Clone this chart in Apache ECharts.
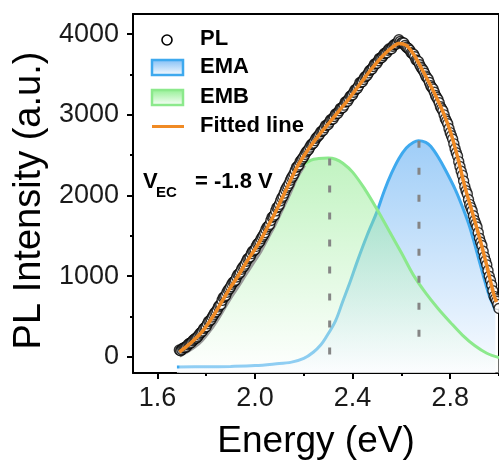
<!DOCTYPE html>
<html>
<head>
<meta charset="utf-8">
<script src="https://cdn.jsdelivr.net/npm/echarts@6/dist/echarts.min.js"></script>
<style>
  html, body { margin: 0; padding: 0; background: #fff; }
  #chart { width: 499px; height: 465px; }
</style>
</head>
<body>
<div id="chart"></div>
<script>
// PL spectrum at V_EC = -1.8 V with its two-band decomposition.

// Measured PL points (energy in eV, intensity in a.u.)
const plEnergy = [
  1.69, 1.70, 1.71, 1.72, 1.73, 1.74, 1.75, 1.76, 1.77, 1.78, 1.79, 1.80, 1.81, 1.82, 1.83, 1.84, 1.85, 1.86, 1.87, 1.88,
  1.89, 1.90, 1.91, 1.92, 1.93, 1.94, 1.95, 1.96, 1.97, 1.98, 1.99, 2.00, 2.01, 2.02, 2.03, 2.04, 2.05, 2.06, 2.07, 2.08,
  2.09, 2.10, 2.11, 2.12, 2.13, 2.14, 2.15, 2.16, 2.17, 2.18, 2.19, 2.20, 2.21, 2.22, 2.23, 2.24, 2.25, 2.26, 2.27, 2.28,
  2.29, 2.30, 2.31, 2.32, 2.33, 2.34, 2.35, 2.36, 2.37, 2.38, 2.39, 2.40, 2.41, 2.42, 2.43, 2.44, 2.45, 2.46, 2.47, 2.48,
  2.49, 2.50, 2.51, 2.52, 2.53, 2.54, 2.55, 2.56, 2.57, 2.58, 2.59, 2.60, 2.61, 2.62, 2.63, 2.64, 2.65, 2.66, 2.67, 2.68,
  2.69, 2.70, 2.71, 2.72, 2.73, 2.74, 2.75, 2.76, 2.77, 2.78, 2.79, 2.80, 2.81, 2.82, 2.83, 2.84, 2.85, 2.86, 2.87, 2.88,
  2.89, 2.90, 2.91, 2.92, 2.93, 2.94, 2.95, 2.96, 2.97, 2.98, 2.99, 3.00
];
const plIntensity = [
  85, 90, 115, 130, 165, 180, 215, 235, 270, 305, 350, 375, 440, 465, 520, 560, 620, 650, 735, 760,
  830, 870, 925, 950, 1020, 1050, 1110, 1150, 1215, 1240, 1310, 1330, 1400, 1430, 1490, 1540, 1610, 1640, 1730, 1760,
  1850, 1890, 1970, 2030, 2100, 2150, 2220, 2270, 2350, 2380, 2440, 2480, 2540, 2570, 2630, 2650, 2710, 2740, 2790, 2810,
  2870, 2880, 2940, 2950, 3010, 3020, 3080, 3090, 3160, 3170, 3230, 3250, 3310, 3330, 3400, 3410, 3470, 3490, 3550, 3570,
  3630, 3640, 3700, 3710, 3760, 3770, 3820, 3820, 3870, 3880, 3930, 3890, 3890, 3840, 3820, 3770, 3750, 3680, 3660, 3590,
  3550, 3480, 3440, 3360, 3320, 3240, 3190, 3100, 3050, 2950, 2890, 2780, 2700, 2580, 2490, 2360, 2250, 2110, 2020, 1890,
  1810, 1690, 1610, 1470, 1380, 1240, 1140, 1000, 890, 750, 690, 600
];
// Readings taken between the points above
const plEnergyMid = [
  1.695, 1.705, 1.715, 1.725, 1.735, 1.745, 1.755, 1.765, 1.775, 1.785, 1.795, 1.805, 1.815, 1.825, 1.835, 1.845, 1.855, 1.865, 1.875, 1.885,
  1.895, 1.905, 1.915, 1.925, 1.935, 1.945, 1.955, 1.965, 1.975, 1.985, 1.995, 2.005, 2.015, 2.025, 2.035, 2.045, 2.055, 2.065, 2.075, 2.085,
  2.095, 2.105, 2.115, 2.125, 2.135, 2.145, 2.155, 2.165, 2.175, 2.185, 2.195, 2.205, 2.215, 2.225, 2.235, 2.245, 2.255, 2.265, 2.275, 2.285,
  2.295, 2.305, 2.315, 2.325, 2.335, 2.345, 2.355, 2.365, 2.375, 2.385, 2.395, 2.405, 2.415, 2.425, 2.435, 2.445, 2.455, 2.465, 2.475, 2.485,
  2.495, 2.505, 2.515, 2.525, 2.535, 2.545, 2.555, 2.565, 2.575, 2.585, 2.595, 2.605, 2.615, 2.625, 2.635, 2.645, 2.655, 2.665, 2.675, 2.685,
  2.695, 2.705, 2.715, 2.725, 2.735, 2.745, 2.755, 2.765, 2.775, 2.785, 2.795, 2.805, 2.815, 2.825, 2.835, 2.845, 2.855, 2.865, 2.875, 2.885,
  2.895, 2.905, 2.915, 2.925, 2.935, 2.945, 2.955, 2.965, 2.975, 2.985, 2.995
];
const plIntensityMid = [
  75, 108, 118, 150, 168, 200, 228, 250, 292, 320, 365, 410, 448, 495, 545, 585, 640, 700, 745, 800,
  845, 900, 935, 990, 1030, 1085, 1125, 1185, 1225, 1280, 1315, 1370, 1410, 1465, 1510, 1580, 1620, 1690, 1740, 1810,
  1860, 1935, 1990, 2070, 2120, 2190, 2240, 2310, 2360, 2420, 2460, 2510, 2555, 2600, 2640, 2680, 2725, 2760, 2800, 2840,
  2875, 2910, 2945, 2980, 3015, 3050, 3085, 3120, 3165, 3200, 3240, 3280, 3320, 3360, 3405, 3440, 3480, 3520, 3560, 3600,
  3635, 3670, 3705, 3735, 3765, 3800, 3815, 3850, 3875, 3900, 3910, 3895, 3860, 3830, 3800, 3760, 3720, 3670, 3620, 3570,
  3515, 3460, 3400, 3340, 3280, 3215, 3150, 3075, 3000, 2920, 2830, 2740, 2640, 2530, 2420, 2300, 2180, 2060, 1950, 1850,
  1750, 1650, 1540, 1420, 1310, 1190, 1070, 950, 820, 720, 650
];

// Fitted envelope
const fitEnergy = [
  1.69, 1.72, 1.75, 1.78, 1.81, 1.84, 1.87, 1.90, 1.93, 1.96, 1.99, 2.02, 2.05, 2.08, 2.11, 2.14, 2.17, 2.20, 2.23, 2.26,
  2.29, 2.32, 2.35, 2.38, 2.41, 2.44, 2.47, 2.50, 2.53, 2.56, 2.59, 2.62, 2.65, 2.68, 2.71, 2.74, 2.77, 2.80, 2.83, 2.86,
  2.89, 2.92, 2.95, 2.98, 2.99
];
const fitIntensity = [
  60, 130, 210, 300, 420, 560, 715, 865, 1000, 1150, 1290, 1430, 1600, 1770, 1960, 2150, 2340, 2490, 2620, 2740,
  2850, 2960, 3070, 3180, 3300, 3420, 3540, 3650, 3750, 3830, 3885, 3860, 3750, 3590, 3420, 3240, 3040, 2800, 2480, 2110,
  1800, 1480, 1130, 760, 680
];

// High-energy band (EMA)
const emaEnergy = [
  1.68, 1.80, 1.90, 2.00, 2.08, 2.15, 2.20, 2.24, 2.27, 2.29, 2.33, 2.36, 2.39, 2.42, 2.46, 2.50, 2.53, 2.56, 2.59, 2.62,
  2.65, 2.67, 2.70, 2.72, 2.75, 2.78, 2.82, 2.85, 2.88, 2.91, 2.94, 2.96, 2.985
];
const emaIntensity = [
  -125, -123, -118, -108, -88, -65, -20, 60, 150, 237, 447, 690, 930, 1190, 1510, 1800, 2060, 2280, 2460, 2590,
  2660, 2680, 2660, 2610, 2480, 2320, 2080, 1860, 1610, 1290, 960, 760, 580
];

// Low-energy band (EMB)
const embEnergy = [
  1.69, 1.72, 1.75, 1.78, 1.81, 1.84, 1.87, 1.90, 1.93, 1.96, 1.99, 2.02, 2.05, 2.08, 2.11, 2.14, 2.17, 2.20, 2.23, 2.26,
  2.30, 2.33, 2.36, 2.40, 2.45, 2.50, 2.55, 2.60, 2.65, 2.70, 2.75, 2.80, 2.85, 2.90, 2.95, 3.00
];
const embIntensity = [
  20, 70, 130, 210, 320, 450, 600, 750, 885, 1030, 1170, 1310, 1480, 1650, 1840, 2030, 2230, 2380, 2440, 2458,
  2465, 2450, 2400, 2290, 2080, 1830, 1560, 1290, 1010, 790, 600, 430, 270, 140, 45, -10
];
const embEdgeLimit = 2.20;   // where the EMB flank runs under the PL data

// Band centres and heights
const peakCentres = [2.306, 2.672];
const peakHeights = [2460, 2680];

// Axis ticks
const xMajorTicks = [1.6, 2.0, 2.4, 2.8];
const xMinorTicks = [1.8, 2.2, 2.6, 3.0];
const yMajorTicks = [0, 1000, 2000, 3000, 4000];
const yMinorTicks = [500, 1500, 2500, 3500];

const FONT = '"Liberation Sans", Arial, Helvetica, sans-serif';
const pairs = (xs, ys) => xs.map((x, i) => [x, ys[i]]);
const vGrad = (top, bottom) => new echarts.graphic.LinearGradient(0, 0, 0, 1, [
  { offset: 0, color: top }, { offset: 1, color: bottom }
]);

const chart = echarts.init(document.getElementById('chart'), null, { renderer: 'canvas' });

const baseX = { type: 'value', min: 1.5, max: 3.0, splitLine: { show: false } };
const baseY = { type: 'value', min: -200, max: 4250, splitLine: { show: false } };
const axisLine = { show: true, onZero: false, lineStyle: { color: '#000', width: 2 } };
const hiddenLine = { show: false, onZero: false };
const tickStyle = { color: '#000', width: 2 };

const embPairs = pairs(embEnergy, embIntensity);
const plPoints = pairs(plEnergy, plIntensity)
  .concat(pairs(plEnergyMid, plIntensityMid))
  .sort((a, b) => a[0] - b[0]);

const legendFont = 'bold 22px ' + FONT;

chart.setOption({
  animation: false,
  backgroundColor: '#fff',
  grid: { left: 133, top: 14, width: 369, height: 361, containLabel: false },
  xAxis: [
    Object.assign({}, baseX, {
      position: 'bottom',
      axisLine,
      axisTick: { show: true, inside: false, length: 6, lineStyle: tickStyle, customValues: xMajorTicks },
      axisLabel: { show: true, margin: 12, fontSize: 27, fontFamily: FONT, color: '#1a1a1a',
        customValues: xMajorTicks, formatter: v => Number(v).toFixed(1) },
      name: 'Energy (eV)', nameLocation: 'middle', nameGap: 50,
      nameTextStyle: { fontSize: 37, fontFamily: FONT, color: '#000' }
    }),
    Object.assign({}, baseX, {
      position: 'bottom',
      axisLine: hiddenLine,
      axisTick: { show: true, inside: false, length: 3, lineStyle: tickStyle, customValues: xMinorTicks },
      axisLabel: { show: false }
    }),
    Object.assign({}, baseX, {
      position: 'top', axisLine, axisTick: { show: false }, axisLabel: { show: false }
    })
  ],
  yAxis: [
    Object.assign({}, baseY, {
      position: 'left',
      axisLine,
      axisTick: { show: true, inside: false, length: 6, lineStyle: tickStyle, customValues: yMajorTicks },
      axisLabel: { show: true, margin: 14, fontSize: 27, fontFamily: FONT, color: '#1a1a1a',
        customValues: yMajorTicks, formatter: v => String(v) },
      name: 'PL Intensity (a.u.)', nameLocation: 'middle', nameGap: 71, nameRotate: 90,
      nameTextStyle: { fontSize: 38, fontFamily: FONT, color: '#000', padding: [0, 14, 0, 0] }
    }),
    Object.assign({}, baseY, {
      position: 'left',
      axisLine: hiddenLine,
      axisTick: { show: true, inside: false, length: 3, lineStyle: tickStyle, customValues: yMinorTicks },
      axisLabel: { show: false }
    }),
    Object.assign({}, baseY, {
      position: 'right', axisLine, axisTick: { show: false }, axisLabel: { show: false }
    })
  ],
  series: [
    {
      name: 'EMA', type: 'line', smooth: 0.35, showSymbol: false, z: 2,
      data: pairs(emaEnergy, emaIntensity),
      lineStyle: { color: '#3ea9ee', width: 3 },
      itemStyle: { color: '#3ea9ee' },
      areaStyle: { origin: 'start', color: vGrad('#76b8f4', '#f7faff') }
    },
    {
      name: 'EMB', type: 'line', smooth: 0.35, showSymbol: false, z: 3,
      data: embPairs,
      lineStyle: { color: '#8ce98c', width: 3 },
      itemStyle: { color: '#8ce98c' },
      areaStyle: { origin: 'start', color: vGrad('rgba(112,228,112,0.62)', 'rgba(255,255,255,0.62)') }
    },
    {
      name: 'EMB flank', type: 'line', smooth: 0.35, showSymbol: false, z: 4,
      data: embPairs.filter(p => p[0] <= embEdgeLimit),
      lineStyle: { color: '#9a9a9a', width: 5 }
    },
    {
      name: 'EMB centre', type: 'line', showSymbol: false, z: 5,
      data: [[peakCentres[0], peakHeights[0]], [peakCentres[0], 0]],
      lineStyle: { color: '#858585', width: 3, type: [7, 20] }
    },
    {
      name: 'EMA centre', type: 'line', showSymbol: false, z: 5,
      data: [[peakCentres[1], peakHeights[1]], [peakCentres[1], 0]],
      lineStyle: { color: '#858585', width: 3, type: [7, 20] }
    },
    {
      name: 'PL', type: 'scatter', z: 6, symbol: 'circle', symbolSize: 10,
      data: plPoints,
      itemStyle: { color: '#fff', borderColor: '#000', borderWidth: 1.4 }
    },
    {
      name: 'Fitted line', type: 'line', smooth: 0.35, showSymbol: false, z: 7,
      data: pairs(fitEnergy, fitIntensity),
      lineStyle: { color: '#f08a24', width: 3.5 }
    }
  ],
  graphic: [
    // legend
    { type: 'circle', shape: { cx: 167, cy: 40, r: 5 }, style: { fill: '#fff', stroke: '#000', lineWidth: 1.6 }, z: 100 },
    { type: 'text', left: 200, top: 28, style: { text: 'PL', font: legendFont, fill: '#000' }, z: 100 },
    { type: 'rect', shape: { x: 152, y: 60, width: 31, height: 15 },
      style: { fill: vGrad('#7dbcf5', '#ffffff'), stroke: '#3ea9ee', lineWidth: 2.5 }, z: 100 },
    { type: 'text', left: 200, top: 56, style: { text: 'EMA', font: legendFont, fill: '#000' }, z: 100 },
    { type: 'rect', shape: { x: 152, y: 90, width: 31, height: 15 },
      style: { fill: vGrad('#8fef8f', '#ffffff'), stroke: '#8ce98c', lineWidth: 2.5 }, z: 100 },
    { type: 'text', left: 200, top: 86, style: { text: 'EMB', font: legendFont, fill: '#000' }, z: 100 },
    { type: 'line', shape: { x1: 152, y1: 126.5, x2: 184, y2: 126.5 }, style: { stroke: '#f08a24', lineWidth: 3 }, z: 100 },
    { type: 'text', left: 200, top: 115, style: { text: 'Fitted line', font: legendFont, fill: '#000' }, z: 100 },
    // bias annotation
    { type: 'text', left: 143, top: 171, style: { text: 'V', font: 'bold 22px ' + FONT, fill: '#000' }, z: 100 },
    { type: 'text', left: 156, top: 185, style: { text: 'EC', font: 'bold 15px ' + FONT, fill: '#000' }, z: 100 },
    { type: 'text', left: 195, top: 171, style: { text: '= -1.8 V', font: 'bold 22px ' + FONT, fill: '#000' }, z: 100 }
  ]
});
</script>
</body>
</html>
